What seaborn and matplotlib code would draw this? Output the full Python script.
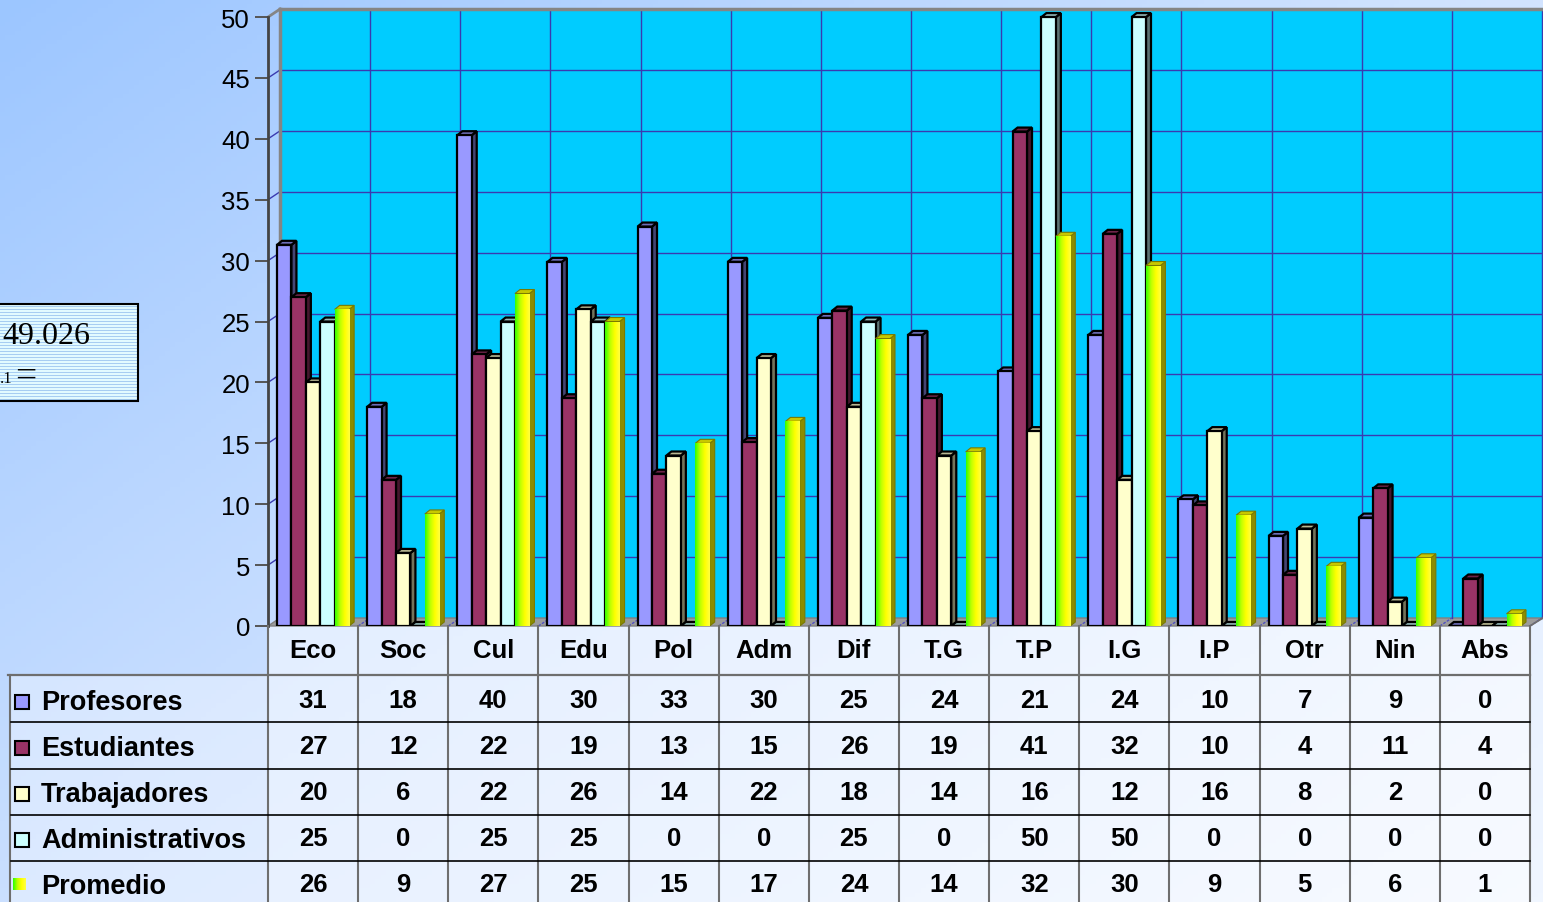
import numpy as np
import pandas as pd
import seaborn as sns
import matplotlib.pyplot as plt
from matplotlib.patches import Rectangle, Polygon
from matplotlib.lines import Line2D
from matplotlib.colors import to_rgb, LinearSegmentedColormap
from matplotlib.transforms import blended_transform_factory

categorias = ["Eco", "Soc", "Cul", "Edu", "Pol", "Adm", "Dif", "T.G", "T.P", "I.G", "I.P", "Otr", "Nin", "Abs"]
grupos = ["Profesores", "Estudiantes", "Trabajadores", "Administrativos", "Promedio"]

profesores = [31.3, 18.0, 40.3, 29.9, 32.8, 29.9, 25.3, 23.9, 20.9, 23.9, 10.4, 7.4, 8.9, 0.0]
estudiantes = [27.0, 12.0, 22.3, 18.7, 12.5, 15.1, 25.9, 18.7, 40.6, 32.2, 9.9, 4.2, 11.3, 3.9]
trabajadores = [20, 6, 22, 26, 14, 22, 18, 14, 16, 12, 16, 8, 2, 0]
administrativos = [25, 0, 25, 25, 0, 0, 25, 0, 50, 50, 0, 0, 0, 0]
promedio = [26.0, 9.2, 27.3, 25.0, 15.0, 16.8, 23.6, 14.3, 32.0, 29.6, 9.1, 4.9, 5.6, 1.0]

colores = ["#9999FF", "#993366", "#FFFFCC", "#CCFFFF", "#CCFF00"]

plt.rcParams['font.family'] = ['Liberation Sans', 'DejaVu Sans']

W, H = 1543, 903
fig = plt.figure(figsize=(W / 100, H / 100), dpi=100)


def fx(px):
    return px / W


def fy(py):
    return 1 - py / H


# fondo degradado
bg = fig.add_axes([0, 0, 1, 1], zorder=-5)
bg.axis('off')
gx, gy = np.meshgrid(np.linspace(0, 1, 300), np.linspace(0, 1, 200))
bg_cmap = LinearSegmentedColormap.from_list('bg', ['#9CC6FF', '#CFE2FF', '#F0F6FF'])
bg.imshow(0.55 * gx + 0.45 * gy, cmap=bg_cmap, aspect='auto', extent=[0, 1, 0, 1], origin='upper')

# fondo de la tabla (debajo de los ejes)
fig.add_artist(Rectangle((fx(268), fy(903)), fx(1530) - fx(268), (903 - 627) / H,
                         facecolor='white', alpha=0.5, edgecolor='none', zorder=-1))
fig.add_artist(Rectangle((fx(10), fy(903)), fx(268) - fx(10), (903 - 676) / H,
                         facecolor='white', alpha=0.35, edgecolor='none', zorder=-1))

# ejes principales
ax = fig.add_axes([fx(268), fy(627), fx(1530) - fx(268), (627 - 12) / H])
ax.patch.set_alpha(0)

df = pd.DataFrame({
    'categoria': categorias * 5,
    'grupo': np.repeat(grupos, len(categorias)),
    'valor': np.concatenate([profesores, estudiantes, trabajadores, administrativos, promedio]),
})

sns.barplot(data=df, x='categoria', y='valor', hue='grupo', order=categorias, hue_order=grupos,
            palette=colores, width=0.8, saturation=1, edgecolor='black', linewidth=1.6,
            errorbar=None, legend=False, ax=ax)

ax.set_xlim(-0.5, 13.5)
ax.set_ylim(0, 50.5)
ppx = ax.bbox.width / 14
ppy = ax.bbox.height / 50.5
wx, wy = 12 / ppx, 8 / ppy
bx, by = 5 / ppx, 4 / ppy

# pared y piso
ax.add_patch(Rectangle((-0.5 + wx, wy), 15, 50, facecolor='#00CCFF', edgecolor='none',
                       zorder=0.5, clip_on=False))
ax.add_patch(Polygon([(-0.5, 0), (13.5, 0), (13.5 + wx, wy), (-0.5 + wx, wy)], closed=True,
                     facecolor='#9C9C9C', edgecolor='#808080', lw=1, zorder=0.55, clip_on=False))
for v in range(5, 50, 5):
    ax.plot([-0.5 + wx, 14.5], [v + wy, v + wy], color='#3A3AB0', lw=1, zorder=0.6, clip_on=False)
    ax.plot([-0.5, -0.5 + wx], [v, v + wy], color='#3A3AB0', lw=1, zorder=0.6, clip_on=False)
for k in range(1, 15):
    ax.plot([k - 0.5 + wx] * 2, [wy, 50 + wy], color='#3A3AB0', lw=1, zorder=0.6, clip_on=False)
    ax.plot([k - 0.5, k - 0.5 + wx], [0, wy], color='#5050C0', lw=1, ls=(0, (2, 1)),
            zorder=0.6, clip_on=False)
ax.plot([-0.5 + wx, 14.5], [50 + wy] * 2, color='#858585', lw=2.5, zorder=0.7, clip_on=False)
ax.plot([-0.5 + wx] * 2, [wy, 50 + wy], color='#858585', lw=2.5, zorder=0.7, clip_on=False)
ax.plot([-0.5, -0.5 + wx], [50, 50 + wy], color='#858585', lw=2, zorder=0.7, clip_on=False)

# barras en 3D
grad_cmap = LinearSegmentedColormap.from_list('prom', ['#33FF00', '#BBFF00', '#FFFF00', '#FFFF40'])
grad = np.linspace(0, 1, 50).reshape(1, -1)
for h, cont in enumerate(ax.containers):
    base = np.array(to_rgb(colores[h]))
    zf = 3 + 0.1 * h
    for bar in cont:
        x0, w, hg = bar.get_x(), bar.get_width(), bar.get_height()
        bar.set_zorder(zf)
        if grupos[h] == "Promedio":
            side_c, top_c, ec = '#8C8C00', '#C8C800', '#7A7A00'
            bar.set_edgecolor('none')
            if hg > 0:
                im = ax.imshow(grad, cmap=grad_cmap, extent=[x0, x0 + w, 0, hg], aspect='auto',
                               zorder=zf + 0.01)
                im.set_clip_path(bar)
            lw = 0.8
        else:
            side_c, top_c, ec = base * 0.45, base * 0.72, 'black'
            lw = 1.6
        ax.add_patch(Polygon([(x0 + w, 0), (x0 + w + bx, by), (x0 + w + bx, hg + by), (x0 + w, hg)],
                             closed=True, facecolor=side_c, edgecolor=ec, lw=lw, zorder=zf - 0.05))
        ax.add_patch(Polygon([(x0, hg), (x0 + w, hg), (x0 + w + bx, hg + by), (x0 + bx, hg + by)],
                             closed=True, facecolor=top_c, edgecolor=ec, lw=lw, zorder=zf - 0.05))

ax.set_xlim(-0.5, 13.5)
ax.set_ylim(0, 50.5)
ax.set_xlabel('')
ax.set_ylabel('')
ax.set_xticks([])
ax.set_yticks(range(0, 51, 5))
ax.tick_params(axis='y', length=9.4, width=1.4, color='#555555', labelsize=18.5, pad=3.6)
for s in ['top', 'right', 'bottom']:
    ax.spines[s].set_visible(False)
ax.spines['left'].set_bounds(0, 50)
ax.spines['left'].set_color('#444444')
ax.spines['left'].set_linewidth(2)

# tabla de datos
blend = blended_transform_factory(ax.transData, fig.transFigure)
for k in range(15):
    ax.add_artist(Line2D([k - 0.5] * 2, [fy(627), fy(903)], transform=blend, color='#6E6E6E',
                         lw=1.5, clip_on=False, zorder=5))
fig.add_artist(Line2D([fx(10)] * 2, [fy(676), fy(903)], color='#6E6E6E', lw=1.5, zorder=5))
fig.add_artist(Line2D([fx(8), fx(1530)], [fy(676)] * 2, color='#6E6E6E', lw=1.6, zorder=5))
for yy in [723, 770, 816, 862]:
    fig.add_artist(Line2D([fx(11), fx(1530)], [fy(yy)] * 2, color='black', lw=1.2, zorder=5))
fig.add_artist(Line2D([fx(1530), fx(1543)], [fy(627), fy(619)], color='#6E6E6E', lw=1.2, zorder=5))

for i, c in enumerate(categorias):
    ax.text(i, fy(651), c, transform=blend, ha='center', va='center', fontsize=18.5,
            fontweight='bold', clip_on=False, zorder=6)

filas = [profesores, estudiantes, trabajadores, administrativos, promedio]
centros = [701, 747, 793, 839, 885]
for serie, yc, nombre, col in zip(filas, centros, grupos, colores):
    for i, v in enumerate(serie):
        ax.text(i, fy(yc), str(int(np.floor(v + 0.5))), transform=blend, ha='center', va='center',
                fontsize=18.5, fontweight='bold', clip_on=False, zorder=6)
    fig.text(fx(41), fy(yc + 2), nombre, ha='left', va='center', fontsize=19.5, fontweight='bold',
             zorder=6)
    if nombre == "Promedio":
        mk = fig.add_axes([fx(13), fy(891), 12 / W, 12 / H], zorder=6)
        mk.imshow(np.linspace(0, 1, 20).reshape(1, -1), cmap=grad_cmap, aspect='auto')
        mk.axis('off')
    else:
        fig.add_artist(Rectangle((fx(15), fy(yc + 9)), 14 / W, 14 / H, facecolor=col,
                                 edgecolor='black', lw=1.5, zorder=6))

# cuadro de texto a la izquierda
fig.add_artist(Rectangle((0, fy(402)), fx(138), (402 - 305) / H, facecolor='#E2FAFF',
                         edgecolor='none', zorder=2))
for yy in range(307, 402, 3):
    fig.add_artist(Line2D([0, fx(137)], [fy(yy)] * 2, color='#A6CCF2', lw=0.7, zorder=2.1))
fig.add_artist(Rectangle((fx(-2), fy(402)), fx(140), (402 - 305) / H, facecolor='none',
                         edgecolor='black', lw=1.5, zorder=2.2))
fig.text(fx(2), fy(336), "49.026", fontsize=23, family='Liberation Serif', va='center', zorder=3)
fig.text(fx(0), fy(383), ".1", fontsize=12, family='Liberation Serif', va='baseline', zorder=3)
fig.text(fx(15), fy(377), "=", fontsize=27, family='Liberation Serif', va='center', zorder=3)

fig.savefig('out.png', dpi=100)
